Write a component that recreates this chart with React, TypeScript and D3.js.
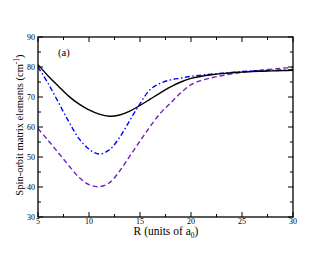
import React from "react";
import * as d3 from "d3";

const R = [5, 6, 7, 8, 9, 10, 11, 12, 13, 14, 15, 16, 17, 18, 19, 20, 21, 22, 23, 24, 25, 26, 27, 28, 29, 30];
const solidSeries = [80.8, 77, 73.6, 70.3, 67.7, 65.7, 64.3, 63.6, 64.0, 65.3, 67.2, 69.3, 71.4, 73.4, 75.0, 76.2, 76.9, 77.4, 77.8, 78.1, 78.3, 78.5, 78.6, 78.7, 78.8, 78.9];
const dashDotSeries = [80, 74.5, 68.2, 61.9, 56.2, 52.6, 51.0, 52.4, 56.5, 62.2, 67.8, 72.5, 74.6, 75.7, 76.3, 76.9, 77.3, 77.6, 77.9, 78.2, 78.5, 78.7, 78.8, 78.9, 79.0, 79.1];
const dashedSeries = [59.5, 55.5, 51.4, 47.2, 43.3, 40.8, 40.1, 41.4, 45.3, 50.3, 55.3, 60.2, 64.6, 68.0, 71.4, 74.1, 75.5, 76.4, 77.1, 77.7, 78.2, 78.6, 79.0, 79.3, 79.6, 79.9];
const xTicks = [5, 10, 15, 20, 25, 30];
const yTicks = [30, 40, 50, 60, 70, 80, 90];
const xMinor = [7.5, 12.5, 17.5, 22.5, 27.5];
const yMinor = [35, 45, 55, 65, 75, 85];

const W = 330, H = 255;
const L = 38, Rt = 293, T = 37, B = 217;
const font = "'Liberation Serif', 'Times New Roman', serif";

export default function App() {
  const x = d3.scaleLinear().domain([5, 30]).range([L, Rt]);
  const y = d3.scaleLinear().domain([30, 90]).range([B, T]);
  const line = (vals: number[]) =>
    d3.line<number>().x((_, i) => x(R[i])).y((v) => y(v)).curve(d3.curveCatmullRom)(vals) || "";

  return (
    <svg width={W} height={H} style={{ position: "absolute", left: 0, top: 0, background: "#fff" }}>
      <rect x={0} y={0} width={W} height={H} fill="#fff" />
      <path d={line(dashedSeries)} fill="none" stroke="#7221bc" strokeWidth={1.4} strokeDasharray="5,3" />
      <path d={line(dashDotSeries)} fill="none" stroke="#0000ff" strokeWidth={1.4} strokeDasharray="5,2.5,1.5,2.5" />
      <path d={line(solidSeries)} fill="none" stroke="#000" strokeWidth={1.4} />
      {xTicks.map((t) => (
        <g key={"xt" + t}>
          <line x1={x(t)} x2={x(t)} y1={B} y2={B - 5} stroke="#000" />
          <line x1={x(t)} x2={x(t)} y1={T} y2={T + 5} stroke="#000" />
          <text x={x(t)} y={B + 7} fontSize={8} fontFamily={font} textAnchor="middle">{t}</text>
        </g>
      ))}
      {xMinor.map((t) => (
        <g key={"xm" + t}>
          <line x1={x(t)} x2={x(t)} y1={B} y2={B - 3} stroke="#000" />
          <line x1={x(t)} x2={x(t)} y1={T} y2={T + 3} stroke="#000" />
        </g>
      ))}
      {yTicks.map((t) => (
        <g key={"yt" + t}>
          <line x1={L} x2={L + 5} y1={y(t)} y2={y(t)} stroke="#000" />
          <line x1={Rt} x2={Rt - 5} y1={y(t)} y2={y(t)} stroke="#000" />
          <text x={L - 3} y={y(t) + 3} fontSize={8} fontFamily={font} textAnchor="end">{t}</text>
        </g>
      ))}
      {yMinor.map((t) => (
        <g key={"ym" + t}>
          <line x1={L} x2={L + 3} y1={y(t)} y2={y(t)} stroke="#000" />
          <line x1={Rt} x2={Rt - 3} y1={y(t)} y2={y(t)} stroke="#000" />
        </g>
      ))}
      <rect x={L} y={T} width={Rt - L} height={B - T} fill="none" stroke="#000" strokeWidth={1.3} />
      <text x={58} y={56} fontSize={10.5} fontFamily={font}>(a)</text>
      <text x={166} y={235} fontSize={11.5} fontFamily={font} textAnchor="middle">
        R (units of a<tspan fontSize={7.5} dy={3}>0</tspan><tspan dy={-3}>)</tspan>
      </text>
      <text transform={`translate(23,125) rotate(-90)`} fontSize={10.5} fontFamily={font} textAnchor="middle">
        Spin-orbit matrix elements (cm<tspan fontSize={7.5} dy={-4}>-1</tspan><tspan dy={4}>)</tspan>
      </text>
    </svg>
  );
}
